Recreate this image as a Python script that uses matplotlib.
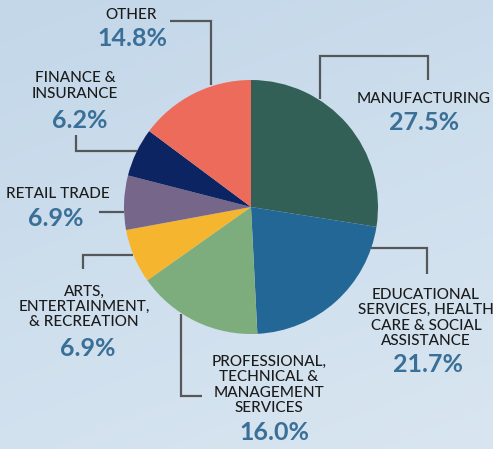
import numpy as np
import matplotlib.pyplot as plt

# industry shares, clockwise from 12 o'clock
sectors = ['MANUFACTURING',
           'EDUCATIONAL\nSERVICES, HEALTH\nCARE & SOCIAL\nASSISTANCE',
           'PROFESSIONAL,\nTECHNICAL &\nMANAGEMENT\nSERVICES',
           'ARTS,\nENTERTAINMENT,\n& RECREATION',
           'RETAIL TRADE',
           'FINANCE &\nINSURANCE',
           'OTHER']
shares = [27.5, 21.7, 16.0, 6.9, 6.9, 6.2, 14.8]
colors = ['#325f56', '#236796', '#7dad7c', '#f5b52f', '#76668a', '#0c2461', '#ec6b5b']

W, H = 493, 449
cx, cy, r = 251, 207, 127

# label placement in pixel coords (top-left origin): name centre x/y, pct centre x/y
label_pos = [
    (424, 99, 424, 122),
    (426, 318, 428, 365),
    (269, 385, 274, 432),
    (84, 307, 88, 348),
    (58, 194, 56, 218),
    (75, 86, 80, 120),
    (131, 15, 132, 38),
]

# leader line paths (pixel coords)
leaders = [
    [(320, 99), (320, 56), (428, 56), (428, 80)],
    [(371, 248), (427, 248), (427, 274)],
    [(181, 314), (181, 396), (202, 396)],
    [(83, 269), (83, 255), (133, 255)],
    [(99, 212), (124, 212)],
    [(76, 135), (76, 151), (137, 151)],
    [(170, 21), (211, 21), (211, 85)],
]

plt.rcParams['font.family'] = ['Lato', 'DejaVu Sans']

fig = plt.figure(figsize=(W / 100, H / 100), dpi=100)
ax = fig.add_axes([0, 0, 1, 1])

# soft blue background
gy, gx = np.mgrid[0:1:200j, 0:1:200j]
t = 0.7 * gy + 0.3 * gx
top = np.array([0xc3, 0xd7, 0xe9]) / 255
bot = np.array([0xd9, 0xe6, 0xf1]) / 255
bg = top[None, None, :] * (1 - t[..., None]) + bot[None, None, :] * t[..., None]
ax.imshow(bg, extent=(0, W, 0, H), origin='upper', aspect='auto', zorder=0)

ax.pie(shares, colors=colors, startangle=90, counterclock=False,
       center=(cx, H - cy), radius=r, wedgeprops=dict(linewidth=0))

for path in leaders:
    xs = [p[0] for p in path]
    ys = [H - p[1] for p in path]
    ax.plot(xs, ys, color='#555759', lw=1.6, solid_capstyle='butt',
            solid_joinstyle='miter', zorder=1)

for name, pct, (nx, ny, px, py) in zip(sectors, shares, label_pos):
    ax.text(nx, H - ny, name, ha='center', va='center', multialignment='center',
            fontsize=11, color='#1b1b1b', linespacing=1.12, fontweight='medium')
    ax.text(px, H - py, f'{pct:.1f}%', ha='center', va='center',
            fontsize=18, fontweight='bold', color='#3a6f97')

ax.set_xlim(0, W)
ax.set_ylim(0, H)
ax.set_aspect('auto')
ax.axis('off')

fig.savefig('out.png', dpi=100)
